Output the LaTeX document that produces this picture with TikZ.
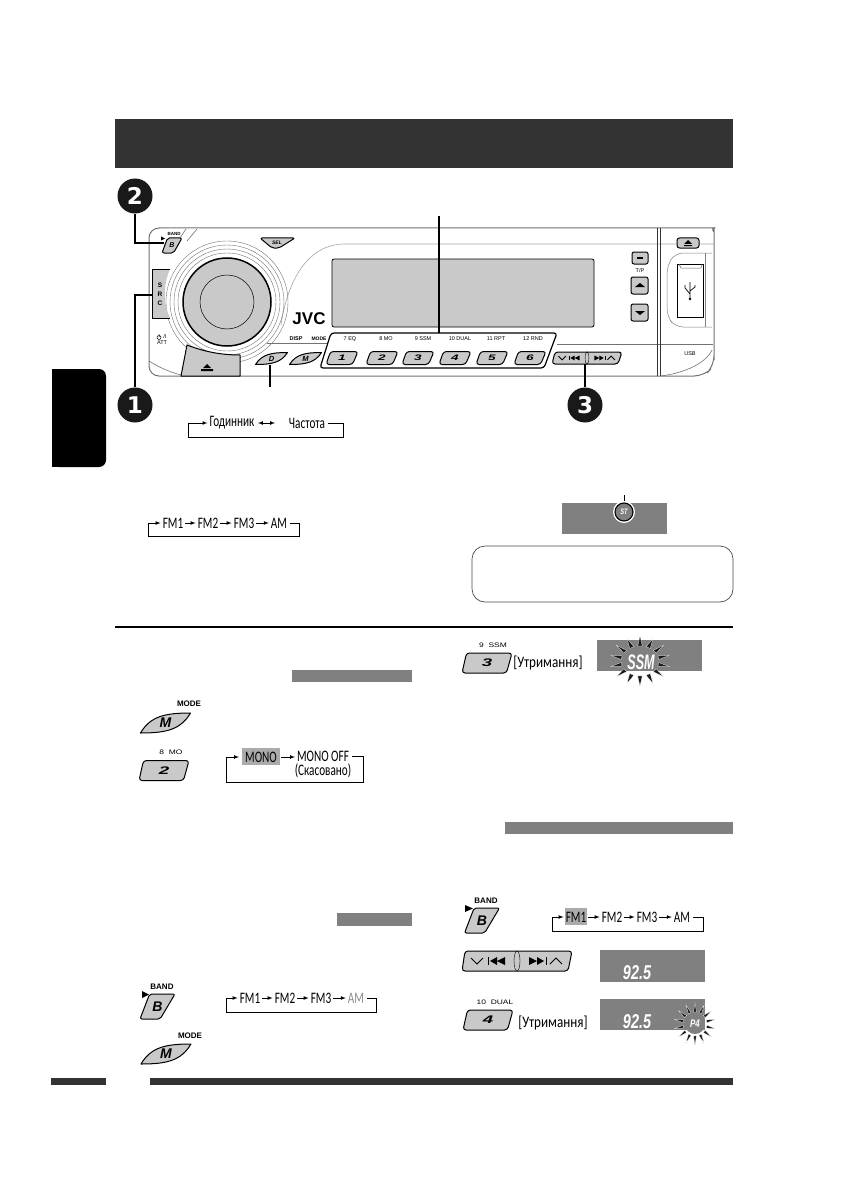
\documentclass[tikz,border=0pt]{standalone}
\usepackage{fontspec}
\usepackage{xcolor}
\usetikzlibrary{positioning, arrows, calc}
\setmainfont{Carlito}
\newfontfamily\narrowfont[FakeStretch=0.70]{Carlito}
\newfontfamily\holdfont[FakeStretch=0.82]{Carlito}
\newfontfamily\panelfont{Liberation Sans}
\newfontfamily\labelfont[FakeStretch=1.3]{Liberation Sans}
\newfontfamily\badgefont{DejaVu Sans}
\newfontfamily\boldnarrow[FakeStretch=0.72]{Liberation Sans}
\newfontfamily\boldslim[FakeStretch=0.60]{Liberation Sans}
\newfontfamily\widesans[FakeStretch=1.7]{Liberation Sans}
\definecolor{barcol}{gray}{0.5}
\definecolor{keycol}{gray}{0.79}
\definecolor{darkbar}{gray}{0.2}

\tikzset{
  cycletext/.style={font=\narrowfont\fontsize{16}{16}\selectfont, inner sep=0pt},
  holdtext/.style={font=\holdfont\fontsize{16}{16}\selectfont, inner sep=0pt},
  paneltext/.style={font=\panelfont\fontsize{5.5}{6}\selectfont, inner sep=0pt},
  keytext/.style={font=\panelfont\bfseries\fontsize{8}{8}\selectfont, inner sep=0pt},
  smalltext/.style={font=\labelfont\fontsize{6.5}{7}\selectfont, inner sep=0pt},
  glyph/.style={font=\panelfont\bfseries\itshape\fontsize{#1}{#1}\selectfont, inner sep=0pt},
  numglyph/.style={font=\widesans\bfseries\itshape\fontsize{#1}{#1}\selectfont, inner sep=0pt},
  showtext/.style={font=\boldnarrow\bfseries\itshape\fontsize{#1}{#1}\selectfont, inner sep=0pt, text=white},
  lead/.style={draw=black, line width=1.3pt},
  loopline/.style={draw=black, line width=0.7pt},
  loopflow/.style={->, >=latex, draw=black, line width=0.7pt, shorten >=2pt},
  gapflow/.style={loopflow, shorten <=2pt},
  key/.style={draw=black, line width=1pt, fill=keycol, line join=round},
  badge/.style={circle, fill=black!90, text=white, minimum size=35pt, inner sep=0pt,
    font=\badgefont\bfseries\fontsize{23}{23}\selectfont},
  graybar/.style={fill=barcol, draw=none},
  shown/.style={fill=barcol, draw=none},
  faceline/.style={draw=black!55, line width=0.6pt}
}

% number key: #1 centre, #2 half width, #3 half height, #4 figure, #5 figure size
\newcommand{\numkey}[5]{%
  \draw[key, rounded corners=3pt] ($(#1)+(-#2+3.5,-#3)$) -- ($(#1)+(#2+1,-#3)$)
    -- ($(#1)+(#2-4.5,#3)$) -- ($(#1)+(-#2-1,#3)$) -- cycle;
  \node[numglyph=#5] (#4) at (#1) {#4};
}
% lens key: #1 centre, #2 half width, #3 half height, #4 name, #5 letter, #6 size
\newcommand{\lenskey}[6]{%
  \draw[key] ($(#1)+(-#2,#3)$)
    .. controls ($(#1)+(-.6*#2,-.7*#3)$) and ($(#1)+(0,-#3)$) .. ($(#1)+(#2,-#3)$)
    .. controls ($(#1)+(.6*#2,.7*#3)$) and ($(#1)+(0,#3)$) .. cycle;
  \node[glyph=#6] (#4) at (#1) {#5};
}
% band key: #1 centre, #2 half width, #3 half height, #4 name, #5 size
\newcommand{\bandkey}[5]{%
  \draw[key, rounded corners=2pt] ($(#1)+(-.45*#2,-#3)$) -- ($(#1)+(#2,-#3)$) -- ($(#1)+(.15*#2,#3)$)
    -- ($(#1)+(-#2,#3)$) -- cycle;
  \node[glyph=#5] (#4) at (#1) {B};
}
% seek key: #1 centre, #2 half width, #3 half height, #4 name, #5 icon scale
\newcommand{\seekkey}[5]{%
  \draw[key, rounded corners=3pt] ($(#1)+(-#2+3,-#3)$) -- ($(#1)+(#2,-#3)$) -- ($(#1)+(#2-4,#3)$)
    -- ($(#1)+(-#2,#3)$) -- cycle;
  \coordinate (#4) at (#1);
  \begin{scope}[shift={(#1)}, scale=#5]
    \draw[line width=.9pt] (-46,-3) -- (-40,3) -- (-34,-3);
    \fill (-27,0) -- (-20,-4) -- (-20,4) -- cycle (-20,0) -- (-12,-4) -- (-12,4) -- cycle;
    \draw[line width=.9pt] (-29,-4) -- (-29,4) (29,-4) -- (29,4);
    \fill (27,0) -- (20,-4) -- (20,4) -- cycle (12,-4) -- (20,0) -- (12,4) -- cycle;
    \draw[line width=.9pt] (33,3) -- (39,-3) -- (45,3);
    \draw[line width=.4pt] (0,0) ellipse (3 and 10);
  \end{scope}
}
% burst: #1 centre, #2,#3 inner radii, #4,#5 outer radii
\newcommand{\burst}[5]{%
  \foreach \ang in {13,38.7,...,350}
    \filldraw[fill=black!90, draw=white, line width=.25pt] ($(#1)+(\ang-7:#2 and #3)$) -- ($(#1)+(\ang:#4 and #5)$)
      -- ($(#1)+(\ang+7:#2 and #3)$) -- cycle;
}

\begin{document}
\begin{tikzpicture}[x=1pt,y=-1pt]
  \useasboundingbox (0,0) rectangle (840,1190);
  \fill[white] (0,0) rectangle (840,1190);

  % header, tab, footer
  \fill[darkbar] (115,119) rectangle (733,168);
  \fill[black, rounded corners=7pt] (52,369) -- (106,369) -- (106,467) -- (52,467) [sharp corners] -- cycle;
  \fill[black] (52,369) rectangle (70,467);
  \fill[darkbar] (51,1078) rectangle (106,1085);
  \fill[darkbar] (150,1078) rectangle (733,1085);
  \fill[black] (115,626) rectangle (733,628);

  % face plate
  \draw[black!55, line width=1pt, rounded corners=10pt] (149,376) -- (149,228) -- (704,228)
    .. controls (711,228) and (714,234) .. (714,240) -- (714,350) -- (714,366) -- (704,376) -- cycle;
  \draw[faceline, black!35] (714,244) -- (345,244) .. controls (305,244) and (287,285) .. (281,325);
  \draw[faceline] (267,343) -- (327,343) (557,344) -- (713,344);
  \draw[black!80, line width=.7pt] (657,228) -- (657,376) (660,228) -- (660,376);
  \draw[faceline] (660,376) .. controls (680,374) and (705,365) .. (712,350);
  \draw[faceline] (149,361) .. controls (160,368) and (170,372) .. (181,375);
  \draw[faceline] (186,229) -- (180,238) (197,229) -- (187,241);

  % dial
  \foreach \ringr in {49,53,57,61}
    \draw[black!55, line width=.4pt] (227,302) circle (\ringr);
  \node[circle, draw=black, line width=1.5pt, fill=keycol, minimum size=88pt, inner sep=0pt] (knob) at (227,302) {};
  \node[circle, draw=black, line width=.5pt, minimum size=54pt, inner sep=0pt] (hub) at (227,302) {};

  % src and eject keys
  \fill[keycol] (152,269) -- (170,269) .. controls (163,285) and (163,303) .. (170,318) -- (152,318) -- cycle;
  \draw[black, line width=.8pt] (170,269) -- (152,269) -- (152,318) -- (170,318);
  \node[paneltext, font=\panelfont\bfseries\fontsize{6.5}{8}\selectfont] (srcs) at (160,285) {S};
  \node[paneltext, font=\panelfont\bfseries\fontsize{6.5}{8}\selectfont] (srcr) at (160,294) {R};
  \node[paneltext, font=\panelfont\bfseries\fontsize{6.5}{8}\selectfont] (srcc) at (160,303) {C};
  \draw[key] (187,345) .. controls (205,352) and (222,355) .. (240,355) -- (240,376) -- (181,376) -- cycle;
  \fill (201,369) rectangle (213,371) (203,368) -- (207,364) -- (211,368) -- cycle;
  \node[paneltext] (att) at (162,342.5) {ATT};
  \node[paneltext] (stby) at (165,337) {/I};
  \draw[line width=.5pt] (159,337.5) circle (2) (159,334) -- (159,337);

  % small keys
  \bandkey{172,245.5}{10}{7.5}{bandtop}{7}
  \fill (161,236.5) -- (165,238.5) -- (161,240.5) -- cycle;
  \node[paneltext, font=\panelfont\bfseries\fontsize{4.5}{5}\selectfont] (bandlbl) at (174,234) {BAND};
  \draw[key, rounded corners=2pt] (260,238) -- (295,238) -- (279,248) -- (272,248) -- cycle;
  \node[glyph=5] (sel) at (277,242.5) {SEL};

  % display and keys round it
  \draw[black, line width=.8pt, fill=keycol, rounded corners=2pt] (332,259) rectangle (594,327);
  \node[font=\panelfont\bfseries\fontsize{17}{17}\selectfont, inner sep=0pt] (jvc) at (309,319) {JVC};
  \node[paneltext, font=\panelfont\bfseries\fontsize{5.5}{6}\selectfont] (disp) at (296,339) {DISP};
  \node[paneltext, font=\panelfont\bfseries\fontsize{5}{6}\selectfont] (mode) at (319,339) {MODE};
  \lenskey{271.5,358.5}{16}{6}{dkey}{D}{7.5}
  \lenskey{305.5,358.5}{16}{6}{mkey}{M}{7.5}
  \draw[black, line width=1.2pt, rounded corners=3pt] (320,368) -- (331,333) -- (557,333) -- (544,368) -- cycle;
  \foreach \num/\xc in {1/342,2/382,3/418,4/455,5/492,6/530} {
    \numkey{\xc,358}{15}{6.5}{\num}{8}
  }
  \foreach \num/\xc/\lbl in {1/350/7 EQ,2/386/8 MO,3/423/9 SSM,4/460/10 DUAL,5/496/11 RPT,6/533/12 RND}
    \node[paneltext, anchor=center] (lbl\num) at (\xc,339) {\lbl};
  \seekkey{587,358}{35}{6}{seektop}{.62}

  % right hand keys
  \draw[key, rounded corners=2pt] (632,252) rectangle (648,264);
  \fill (637,257) rectangle (643,259);
  \node[paneltext] (tp) at (640,271) {T/P};
  \draw[key, rounded corners=2pt] (631,277) rectangle (648,294);
  \fill (635,287) -- (640,283) -- (645,287) -- cycle;
  \draw[key, rounded corners=2pt] (631,304) rectangle (648,321);
  \fill (635,311) -- (640,315) -- (645,311) -- cycle;
  \draw[key, rounded corners=2.5pt] (677,238) rectangle (699,248);
  \fill (684,245) rectangle (692,246) (684,244) -- (688,240) -- (692,244) -- cycle;
  \draw[black!50, line width=.5pt, rounded corners=8pt] (712,253) -- (675,253) -- (667,266) -- (667,316) -- (675,327) -- (712,327);
  \draw[black!50, line width=.5pt] (705,253) -- (705,327);
  \draw[black, line width=.9pt, fill=white] (677,264) rectangle (703,317);
  \draw[black!60, line width=.5pt] (679,264) -- (681,268) -- (701,268) -- (702,264);
  \draw[line width=.7pt] (690,282) -- (690,299) (690,294) -- (685,288) -- (685,285) (690,291) -- (695,287) -- (695,285);
  \fill (690,299) circle (1.4);
  \node[paneltext] (usb) at (690,354) {USB};

  % numbered badges and leaders
  \node[badge] (two) at (135,196) {2};
  \node[badge] (one) at (135,405) {1};
  \node[badge] (three) at (585,405) {3};
  \draw[lead] (two) -- (135,243) -- (164,243);
  \draw[lead] (one) -- (135,295) -- (152,295);
  \draw[lead] (three) -- (585,364);
  \draw[lead] (270,365) -- (270,387);
  \draw[lead] (439,216) -- (439,333);

  % clock loop
  \node[cycletext] (clock) at (232,423) {Годинник};
  \node[cycletext] (freq) at (307,423) {Частота};
  \draw[loopline, shorten <=3pt] (freq) -- (343,423) -- (343,437) -- (188,437) -- (188,423);
  \draw[loopflow] (188,423) -- (clock);
  \draw[loopflow, <->, shorten <=0pt, shorten >=0pt] (258,423) -- (275,423);

  % band loop
  \node[cycletext] (fma) at (173,523) {FM1};
  \node[cycletext] (fmb) at (208,523) {FM2};
  \node[cycletext] (fmc) at (244,523) {FM3};
  \node[cycletext] (ama) at (279,523) {AM};
  \draw[gapflow] (fma) -- (fmb);
  \draw[gapflow] (fmb) -- (fmc);
  \draw[gapflow] (fmc) -- (ama);
  \draw[loopline, shorten <=3pt] (ama) -- (299,523) -- (299,536) -- (148,536) -- (148,523);
  \draw[loopflow] (148,523) -- (fma);

  % stereo display
  \fill[shown] (562,503) rectangle (667,534);
  \draw[lead, line width=.9pt] (624,495) -- (624,502);
  \fill[white] (624,512) circle (11);
  \node[circle, fill=barcol, draw=black, line width=1.1pt, minimum size=18pt, inner sep=0pt,
    showtext=8] (stmark) at (624,512) {ST};
  \draw[black!70, line width=.7pt, rounded corners=13pt] (472,546) rectangle (733,602);

  % mono section
  \fill[graybar] (292,670) rectangle (412,682);
  \lenskey{165.5,723}{25}{10}{monomode}{M}{14}
  \node[keytext] (monomodelbl) at (189,704) {MODE};
  \numkey{164,770.5}{24}{10}{2}{11}
  \node[smalltext] (monokey) at (171,752) {8 \ MO};
  \fill[black!33] (242,748) rectangle (280,765);
  \node[cycletext] (mono) at (261,757) {MONO};
  \node[cycletext] (monooff) at (323,756) {MONO OFF};
  \node[cycletext] (cancel) at (323,771) {(Скасовано)};
  \draw[loopflow] (281,757) -- (297,757);
  \draw[loopline, shorten <=3pt] (monooff) -- (363,756) -- (363,782) -- (226,782) -- (226,757);
  \draw[loopflow] (226,757) -- (241,757);

  % auto search
  \numkey{487,663}{24}{10}{3}{11}
  \node[smalltext] (ssmkey) at (493,645) {9 \ SSM};
  \node[holdtext] (holda) at (548,663) {[Утримання]};
  \fill[shown] (597,640) rectangle (702,671);
  \burst{640,661}{19}{15}{30}{25}
  \node[showtext=21, font=\boldslim\bfseries\itshape\fontsize{21}{21}\selectfont] (ssm) at (641,662) {SSM};

  % bars
  \fill[graybar] (505,822) rectangle (733,834);
  \fill[graybar] (337,913) rectangle (412,926);

  % lower left
  \bandkey{157.5,1006.5}{17.5}{12.5}{bandleft}{14}
  \fill (142,991) -- (149,994.5) -- (142,998) -- cycle;
  \node[keytext] (bandleftlbl) at (162,987) {BAND};
  \node[cycletext] (fmd) at (250,998) {FM1};
  \node[cycletext] (fme) at (285,998) {FM2};
  \node[cycletext] (fmf) at (321,998) {FM3};
  \node[cycletext, text=black!45] (amb) at (356,998) {AM};
  \draw[gapflow] (fmd) -- (fme);
  \draw[gapflow] (fme) -- (fmf);
  \draw[gapflow] (fmf) -- (amb);
  \draw[loopline, shorten <=3pt] (amb) -- (376,998) -- (376,1012) -- (226,1012) -- (226,998);
  \draw[loopflow] (226,998) -- (fmd);
  \lenskey{166,1054}{25}{10}{lowmode}{M}{14}
  \node[keytext] (lowmodelbl) at (190,1036) {MODE};

  % lower right
  \bandkey{482,920.5}{17.5}{12.5}{bandright}{14}
  \fill (465,905) -- (473,908.5) -- (465,912) -- cycle;
  \node[keytext] (bandrightlbl) at (486,901) {BAND};
  \fill[black!33] (565,908) rectangle (587,925);
  \node[cycletext] (fmg) at (576,917) {FM1};
  \node[cycletext] (fmh) at (612,917) {FM2};
  \node[cycletext] (fmi) at (647,917) {FM3};
  \node[cycletext] (amc) at (682,917) {AM};
  \draw[gapflow] (fmg) -- (fmh);
  \draw[gapflow] (fmh) -- (fmi);
  \draw[gapflow] (fmi) -- (amc);
  \draw[loopline, shorten <=3pt] (amc) -- (703,917) -- (703,931) -- (552,931) -- (552,917);
  \draw[loopflow] (552,917) -- (fmg);
  \seekkey{517,961}{55}{10}{seekbig}{1}
  \fill[shown] (600,950) rectangle (705,982);
  \node[showtext=20] (freqa) at (637,973) {92.5};
  \numkey{488,1020}{24}{10}{4}{11}
  \node[smalltext] (dualkey) at (495,1002) {10 \ DUAL};
  \node[holdtext] (holdb) at (553,1023) {[Утримання]};
  \fill[shown] (600,999) rectangle (705,1030);
  \node[showtext=20] (freqb) at (637,1022) {92.5};
  \burst{695,1024}{12}{12}{21}{21}
  \node[circle, fill=barcol, minimum size=20pt, inner sep=0pt] (preset) at (695,1024) {};
  \node[showtext=11] (presetlbl) at (695,1024) {P4};
\end{tikzpicture}
\end{document}
